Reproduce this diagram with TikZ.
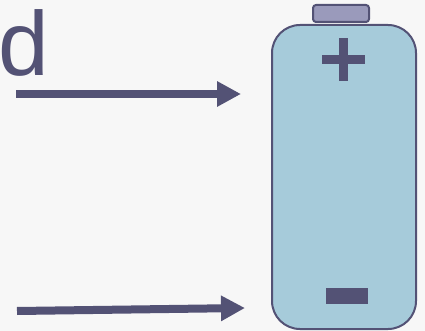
\documentclass[tikz,border=0pt]{standalone}
\usepackage{fontspec}
\setmainfont{Liberation Sans}
\usetikzlibrary{arrows.meta}
\definecolor{ink}{HTML}{535275}
\definecolor{bodyblue}{HTML}{A6CBDA}
\definecolor{capfill}{HTML}{9A9ABB}
\definecolor{paper}{HTML}{F7F7F7}
\tikzset{
  x=1pt,y=-1pt,
  flow/.style={draw=ink,line width=8pt,-{Triangle[length=24pt,width=24pt,fill=ink]}},
}
\begin{document}
\begin{tikzpicture}
\path[use as bounding box,fill=paper] (0,0) rectangle (425,331);
\node[anchor=base west,inner sep=0pt,text=ink,font=\fontsize{91}{91}\selectfont] (letter) at (0,76) {\hspace{-1.5pt}d};
\node[draw=ink,line width=2pt,fill=capfill,rounded corners=3pt,minimum width=56pt,minimum height=17pt,inner sep=0pt] (cap) at (341,13.5) {};
\node[draw=ink,line width=2pt,fill=bodyblue,rounded corners=28pt,minimum width=144pt,minimum height=304pt,inner sep=0pt] (cell) at (344,177) {};
\fill[ink] (322,55) rectangle (365,64);
\fill[ink] (339,38) rectangle (348,81);
\fill[ink] (326,288) rectangle (368,304);
\coordinate (a1) at (16,94);
\coordinate (b1) at (241,94);
\coordinate (a2) at (17,311);
\coordinate (b2) at (245,308);
\draw[flow] (a1) -- (b1);
\draw[flow] (a2) -- (b2);
\end{tikzpicture}
\end{document}
